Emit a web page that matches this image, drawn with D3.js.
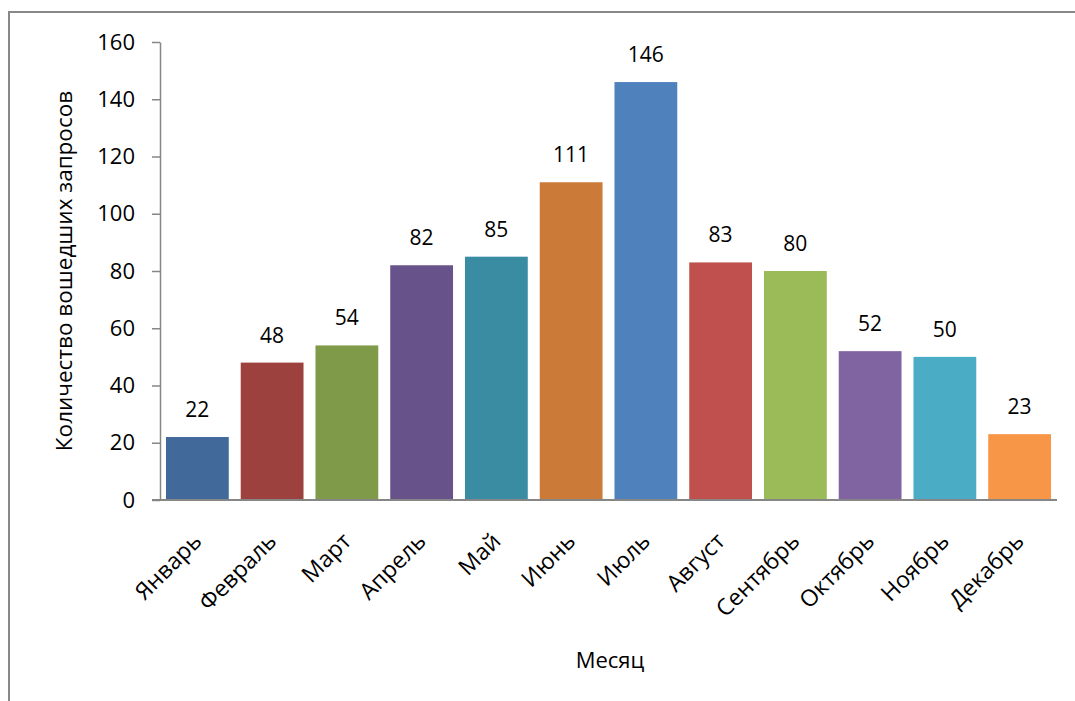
<!DOCTYPE html>
<html><head><meta charset="utf-8">
<script src="https://cdn.jsdelivr.net/npm/d3@7"></script>
<style>body{margin:0;background:#fff}svg{display:block}text{font-family:"Open Sans",sans-serif;fill:#000}</style>
</head><body><svg id="c" width="1075" height="701"></svg>
<script>
const months = ["Январь","Февраль","Март","Апрель","Май","Июнь","Июль","Август","Сентябрь","Октябрь","Ноябрь","Декабрь"];
const values = [22,48,54,82,85,111,146,83,80,52,50,23];
const colors = ["#416A9B","#9D413E","#7F9A48","#68528A","#3A8CA3","#CB7A37","#4F81BD","#C0504D","#9BBB59","#8064A2","#4BACC6","#F79646"];
const yTicks = [0,20,40,60,80,100,120,140,160];
const yTitle = "Количество вошедших запросов";
const xTitle = "Месяц";

const svg = d3.select("#c");
const L = 160, R = 1057, T = 42, B = 500;
svg.append("rect").attr("x",9).attr("y",12).attr("width",1200).attr("height",1000)
  .attr("fill","none").attr("stroke","#888").attr("stroke-width",2);

const x = d3.scaleBand().domain(months).range([L,R]).paddingInner(0.16).paddingOuter(0.08);
const y = d3.scaleLinear().domain([0,160]).range([B,T]);

svg.append("g").selectAll("rect").data(values).join("rect")
  .attr("x",(d,i)=>x(months[i])).attr("width",x.bandwidth())
  .attr("y",d=>y(d)).attr("height",d=>y(0)-y(d)).attr("fill",(d,i)=>colors[i]);

const ya = svg.append("g").attr("transform",`translate(${L},0)`)
  .call(d3.axisLeft(y).tickValues(yTicks).tickSize(8).tickSizeOuter(0).tickPadding(17));
ya.select(".domain").attr("stroke","#868686").attr("stroke-width",1.5);
ya.selectAll(".tick line").attr("stroke","#868686").attr("stroke-width",1.5);
ya.selectAll(".tick text").attr("font-size",22).attr("font-family","Open Sans").attr("fill","#000");

const xa = svg.append("g").attr("transform",`translate(0,${B})`)
  .call(d3.axisBottom(x).tickSize(0).tickSizeOuter(0).tickFormat(""));
xa.select(".domain").attr("stroke","#868686").attr("stroke-width",2).attr("d",`M${L-8},0H${R}`);

svg.append("g").selectAll("text").data(months).join("text")
  .attr("transform",d=>`translate(${x(d)+x.bandwidth()/2},${B+37}) rotate(-45)`)
  .attr("text-anchor","end").attr("dy","0.35em").attr("font-size",23).text(d=>d);

svg.append("g").selectAll("text").data(values).join("text")
  .attr("x",(d,i)=>x(months[i])+x.bandwidth()/2).attr("y",d=>y(d)-20)
  .attr("text-anchor","middle").attr("font-size",21).text(d=>d);

svg.append("text").attr("transform","translate(72,271) rotate(-90)")
  .attr("text-anchor","middle").attr("font-size",22.5).text(yTitle);
svg.append("text").attr("x",610).attr("y",668).attr("text-anchor","middle").attr("font-size",22).text(xTitle);
</script></body></html>
